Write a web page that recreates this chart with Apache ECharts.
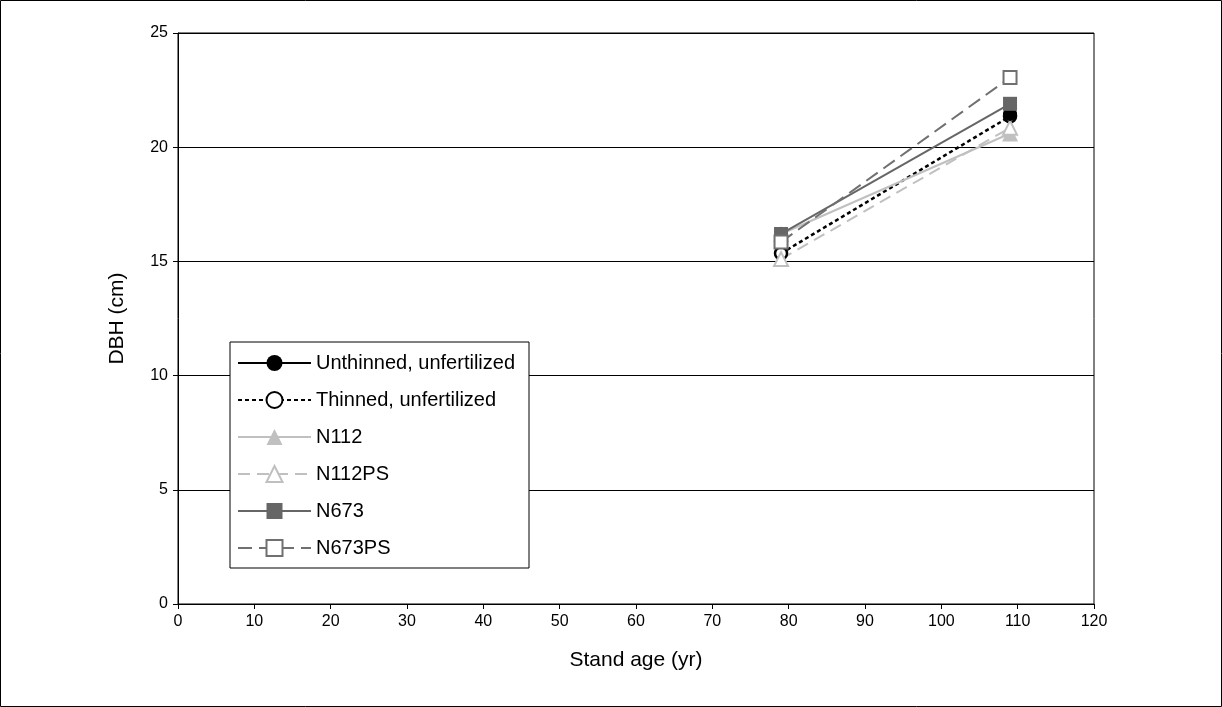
<!DOCTYPE html>
<html><head><meta charset="utf-8">
<script src="https://cdn.jsdelivr.net/npm/echarts@6/dist/echarts.min.js"></script>
<style>html,body{margin:0;padding:0;background:#fff}#c{width:1222px;height:707px}</style>
</head><body><div id="c"></div>
<script>
var ages = [79, 109];
var unthinned = [null, 21.45];
var thinned = [15.35, 21.35];
var n112 = [16.2, 20.6];
var n112ps = [15.1, 20.85];
var n673 = [16.2, 21.9];
var n673ps = [15.85, 23.05];
var names = ['Unthinned, unfertilized','Thinned, unfertilized','N112','N112PS','N673','N673PS'];
var xTicks = [0,10,20,30,40,50,60,70,80,90,100,110,120];
var yTicks = [0,5,10,15,20,25];

function pts(v){ return ages.map(function(a,i){ return [a, v[i]]; }); }

var chart = echarts.init(document.getElementById('c'));
var font = 'Liberation Sans, Arial, sans-serif';
var S = {};
S.unthinned = {name:names[0], data:pts(unthinned), symbol:'circle', symbolSize:14,
   lineStyle:{color:'#000',width:2,type:'solid'}, itemStyle:{color:'#000',borderColor:'#000',borderWidth:0}};
S.thinned = {name:names[1], data:pts(thinned), symbol:'circle', symbolSize:12,
   lineStyle:{color:'#000',width:2.5,type:[4,3]}, itemStyle:{color:'#fff',borderColor:'#000',borderWidth:2.5}};
S.n112 = {name:names[2], data:pts(n112), symbol:'triangle', symbolSize:16,
   lineStyle:{color:'#c0c0c0',width:2,type:'solid'}, itemStyle:{color:'#c0c0c0',borderWidth:0}};
S.n112ps = {name:names[3], data:pts(n112ps), symbol:'triangle', symbolSize:14,
   lineStyle:{color:'#c0c0c0',width:2,type:[12,7]}, itemStyle:{color:'#fff',borderColor:'#c0c0c0',borderWidth:2}};
S.n673 = {name:names[4], data:pts(n673), symbol:'rect', symbolSize:14,
   lineStyle:{color:'#666666',width:2,type:'solid'}, itemStyle:{color:'#666666',borderWidth:0}};
S.n673ps = {name:names[5], data:pts(n673ps), symbol:'rect', symbolSize:13,
   lineStyle:{color:'#707070',width:2,type:[14,7]}, itemStyle:{color:'#fff',borderColor:'#707070',borderWidth:2}};
var series = [S.thinned, S.n112, S.n112ps, S.unthinned, S.n673, S.n673ps].map(function(s){
  s.type='line'; s.showSymbol=true; s.animation=false; s.connectNulls=false; return s; });

chart.setOption({
  animation:false,
  backgroundColor:'#fff',
  textStyle:{fontFamily:font},
  graphic:[{type:'rect', shape:{x:0.5,y:0.5,width:1221,height:706}, style:{fill:null,stroke:'#000',lineWidth:1}, z:-1}],
  grid:{left:178, right:128, top:33, bottom:103, show:true, borderColor:'#000', borderWidth:1, backgroundColor:'#fff'},
  legend:{
    data:names, orient:'vertical', left:230, top:342, itemWidth:73, itemHeight:20, itemGap:17,
    padding:[11,14,10,7], borderColor:'#000', borderWidth:1, backgroundColor:'#fff',
    textStyle:{fontFamily:font, fontSize:20, color:'#000'}, selectedMode:false
  },
  xAxis:{type:'value', min:0, max:120, interval:10, name:'Stand age (yr)', nameLocation:'middle', nameGap:46,
    nameTextStyle:{fontSize:21,color:'#000',fontFamily:font},
    axisLine:{lineStyle:{color:'#000'}}, axisTick:{show:true,length:5,lineStyle:{color:'#000'}},
    axisLabel:{color:'#000',fontSize:16,margin:10,fontFamily:font, formatter:function(v){return xTicks.indexOf(v)>=0?String(v):'';}},
    splitLine:{show:false}},
  yAxis:{type:'value', min:0, max:25, interval:5, name:'DBH (cm)', nameLocation:'middle', nameGap:50,
    nameTextStyle:{fontSize:21,color:'#000',fontFamily:font},
    axisLine:{show:true,lineStyle:{color:'#000'}}, axisTick:{show:true,length:5,lineStyle:{color:'#000'}},
    axisLabel:{color:'#000',fontSize:16,margin:10,fontFamily:font, formatter:function(v){return yTicks.indexOf(v)>=0?String(v):'';}},
    splitLine:{show:true,lineStyle:{color:'#000',width:1}}},
  series:series
});
</script></body></html>
